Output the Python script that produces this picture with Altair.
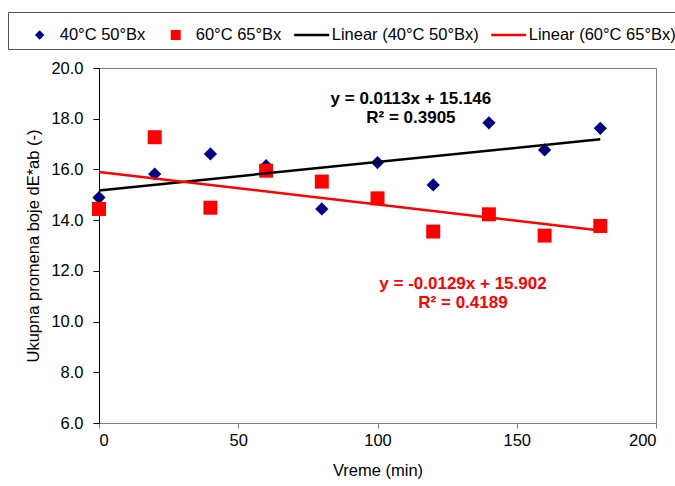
import altair as alt
import pandas as pd

# ---------------- data ----------------
times = [0, 20, 40, 60, 80, 100, 120, 140, 160, 180]
de_40c_50bx = [14.89, 15.82, 16.61, 16.15, 14.44, 16.27, 15.39, 17.84, 16.77, 17.62]
de_60c_65bx = [14.44, 17.27, 14.49, 15.95, 15.52, 14.86, 13.55, 14.23, 13.39, 13.77]
series_names = ["40°C 50°Bx", "60°C 65°Bx"]
trend_names = ["Linear (40°C 50°Bx)", "Linear (60°C 65°Bx)"]
x_ticks = [0, 50, 100, 150, 200]
y_ticks = [6, 8, 10, 12, 14, 16, 18, 20]
eq_text = [["y = 0.0113x + 15.146", "R² = 0.3905"],
           ["y = -0.0129x + 15.902", "R² = 0.4189"]]
eq_time = [112.0, 130.7]
eq_value = [18.77, 11.47]

# ---------------- style ----------------
FONT = "Liberation Sans"
FS = 16.5
series_colors = ["#000080", "#FF0000", "#000000", "#FF0000"]
eq_colors = ["#000000", "#FF0000"]
DIAMOND = "M0,-0.27L0.27,0L0,0.27L-0.27,0Z"
SQUARE = "M-0.285,-0.285H0.285V0.285H-0.285Z"
LINE = "M-1,-0.075H1V0.075H-1Z"

points = pd.DataFrame({
    "time": times * 2,
    "dE": de_40c_50bx + de_60c_65bx,
    "series": [series_names[0]] * len(times) + [series_names[1]] * len(times),
})
eqs = pd.DataFrame({"time": eq_time, "dE": eq_value, "label": eq_text, "col": eq_colors})

all_names = series_names + trend_names
color_scale = alt.Scale(domain=all_names, range=series_colors)
shape_scale = alt.Scale(domain=all_names, range=[DIAMOND, SQUARE, LINE, LINE])

legend = alt.Legend(
    orient="none", legendX=-91, legendY=-56, direction="horizontal", columns=4,
    symbolSize=1225, symbolStrokeWidth=0, symbolOpacity=1,
    labelFont=FONT, labelFontSize=FS, labelColor="#000000", labelOffset=2.5,
    labelLimit=400, columnPadding=12, padding=5.5, strokeColor="#555555",
    title="\u00a0", titleOrient="left", titleFontSize=1, titlePadding=8.7,
)

x_enc = alt.X("time:Q", scale=alt.Scale(domain=[0, 200], nice=False),
              axis=alt.Axis(values=x_ticks, format="d", title="Vreme (min)",
                            tickSize=5, labelPadding=4, titlePadding=14,
                            domainColor="#808080", tickColor="#808080", grid=False))
y_enc = alt.Y("dE:Q", scale=alt.Scale(domain=[6, 20], nice=False, zero=False),
              axis=alt.Axis(values=y_ticks, format=".1f",
                            title="Ukupna promena boje dE*ab (-)",
                            tickSize=6, labelPadding=10, titlePadding=9,
                            domainColor="#000000", tickColor="#000000", grid=False))

pts = alt.Chart(points).mark_point(filled=True, size=2400, opacity=1).encode(
    x=x_enc, y=y_enc,
    color=alt.Color("series:N", scale=color_scale, legend=legend),
    shape=alt.Shape("series:N", scale=shape_scale, legend=legend),
)

lines = alt.Chart(points).transform_regression(
    "time", "dE", groupby=["series"]
).transform_calculate(
    trend='"Linear (" + datum.series + ")"'
).mark_line(strokeWidth=2.5).encode(
    x="time:Q", y="dE:Q",
    color=alt.Color("trend:N", scale=color_scale, legend=legend),
)

eq = alt.Chart(eqs).mark_text(
    font=FONT, fontSize=17, fontWeight="bold", align="center",
    baseline="middle", lineHeight=18.5,
).encode(
    x="time:Q", y="dE:Q", text="label",
    color=alt.Color("col:N", scale=None),
)

chart = alt.layer(pts, lines, eq).properties(
    width=557, height=355,
    autosize=alt.AutoSizeParams(type="none"),
    padding={"left": 99, "top": 68, "right": 19, "bottom": 63},
).configure(font=FONT).configure_view(
    stroke="#808080", strokeWidth=1
).configure_axis(
    labelFont=FONT, titleFont=FONT, labelFontSize=FS, titleFontSize=FS,
    labelColor="#000000", titleColor="#000000", titleFontWeight="normal",
)

chart.save("out.html", embed_options={"renderer": "svg", "actions": False})
